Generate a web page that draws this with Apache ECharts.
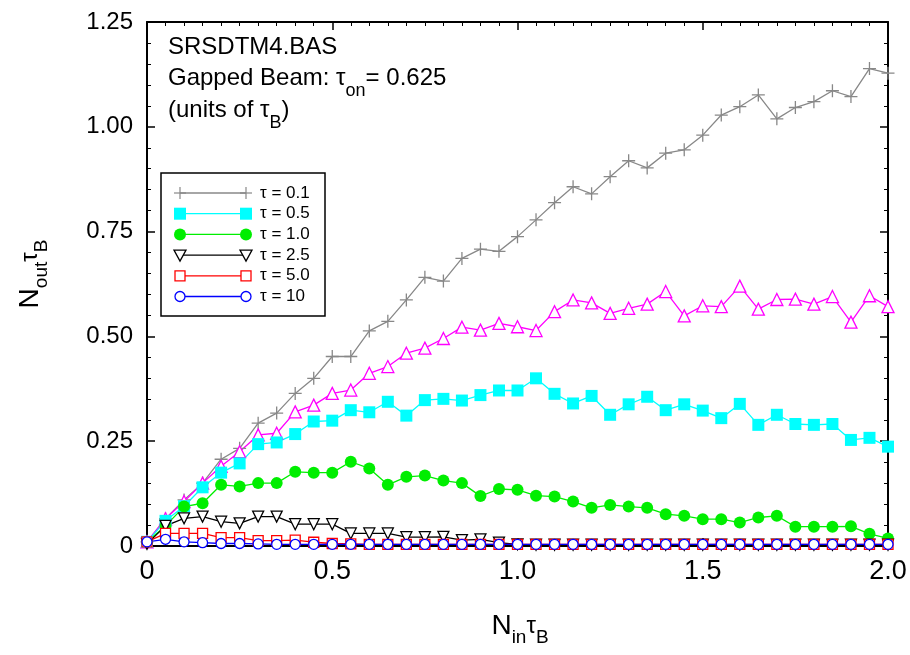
<!DOCTYPE html>
<html>
<head>
<meta charset="utf-8">
<script src="https://cdn.jsdelivr.net/npm/echarts@6/dist/echarts.min.js"></script>
<style>
  html, body { margin: 0; padding: 0; background: #fff; }
  #chart { width: 910px; height: 655px; }
</style>
</head>
<body>
<div id="chart"></div>
<script>
// N_in * tau_B
const nIn = [0, 0.05, 0.1, 0.15, 0.2, 0.25, 0.3, 0.35, 0.4, 0.45,
  0.5, 0.55, 0.6, 0.65, 0.7, 0.75, 0.8, 0.85, 0.9, 0.95,
  1.0, 1.05, 1.1, 1.15, 1.2, 1.25, 1.3, 1.35, 1.4, 1.45,
  1.5, 1.55, 1.6, 1.65, 1.7, 1.75, 1.8, 1.85, 1.9, 1.95, 2.0]

// N_out * tau_B for each tau
const tau01 = [0.01, 0.065, 0.11, 0.15, 0.207, 0.233, 0.293, 0.317, 0.364, 0.40,
  0.452, 0.452, 0.513, 0.536, 0.587, 0.641, 0.632, 0.686, 0.708, 0.703,
  0.738, 0.778, 0.819, 0.857, 0.840, 0.881, 0.919, 0.902, 0.937, 0.945,
  0.980, 1.028, 1.048, 1.076, 1.019, 1.046, 1.060, 1.086, 1.072, 1.139, 1.128]
const tauExtra = [0.01, 0.065, 0.106, 0.15, 0.19, 0.225, 0.265, 0.269, 0.320, 0.336,
  0.364, 0.372, 0.412, 0.428, 0.460, 0.472, 0.495, 0.522, 0.515, 0.531,
  0.523, 0.514, 0.559, 0.587, 0.580, 0.555, 0.567, 0.577, 0.607, 0.549,
  0.573, 0.571, 0.620, 0.565, 0.588, 0.589, 0.577, 0.595, 0.534, 0.597, 0.571]
const tau05 = [0.01, 0.06, 0.095, 0.140, 0.175, 0.197, 0.243, 0.247, 0.267, 0.297,
  0.299, 0.324, 0.319, 0.344, 0.311, 0.348, 0.351, 0.347, 0.360, 0.371,
  0.371, 0.400, 0.363, 0.340, 0.358, 0.313, 0.338, 0.356, 0.324, 0.338,
  0.323, 0.305, 0.339, 0.289, 0.313, 0.291, 0.289, 0.291, 0.253, 0.258, 0.237]
const tau10 = [0.01, 0.048, 0.094, 0.102, 0.146, 0.142, 0.150, 0.150, 0.177, 0.175,
  0.175, 0.201, 0.185, 0.146, 0.165, 0.168, 0.156, 0.150, 0.119, 0.136,
  0.134, 0.120, 0.118, 0.106, 0.091, 0.098, 0.094, 0.091, 0.076, 0.072,
  0.064, 0.064, 0.056, 0.068, 0.072, 0.046, 0.046, 0.046, 0.047, 0.029, 0.018]
const tau25 = [0.005, 0.048, 0.066, 0.070, 0.058, 0.054, 0.070, 0.070, 0.052, 0.052,
  0.052, 0.030, 0.030, 0.030, 0.021, 0.021, 0.022, 0.014, 0.016, 0.008,
  0.004, 0.003, 0.003, 0.003, 0.003, 0.003, 0.003, 0.003, 0.003, 0.003,
  0.003, 0.003, 0.003, 0.003, 0.003, 0.003, 0.003, 0.003, 0.003, 0.003, 0.003]
const tau50 = [0.01, 0.030, 0.030, 0.030, 0.020, 0.020, 0.013, 0.013, 0.014, 0.009,
  0.006, 0.005, 0.004, 0.004, 0.004, 0.004, 0.004, 0.004, 0.004, 0.004,
  0.004, 0.004, 0.004, 0.004, 0.004, 0.004, 0.004, 0.004, 0.004, 0.004,
  0.004, 0.004, 0.004, 0.004, 0.004, 0.004, 0.004, 0.004, 0.004, 0.004, 0.004]
const tau100 = [0.01, 0.016, 0.010, 0.008, 0.006, 0.006, 0.005, 0.004, 0.004, 0.004,
  0.004, 0.004, 0.004, 0.004, 0.004, 0.004, 0.004, 0.004, 0.004, 0.004,
  0.004, 0.004, 0.004, 0.004, 0.004, 0.004, 0.004, 0.004, 0.004, 0.004,
  0.004, 0.004, 0.004, 0.004, 0.004, 0.004, 0.004, 0.004, 0.004, 0.004, 0.004]

const legendNames = ['τ = 0.1', 'τ = 0.5', 'τ = 1.0', 'τ = 2.5', 'τ = 5.0', 'τ = 10']
const xTickLabels = ['0', '0.5', '1.0', '1.5', '2.0']
const yTickLabels = ['0', '0.25', '0.50', '0.75', '1.00', '1.25']

const FONT = '"Liberation Sans", Arial, sans-serif'
const PLUS = 'path://M5.4,0H6.6V12H5.4ZM0,5.4H12V6.6H0Z'

const toPoints = vals => nIn.map((x, i) => [x, vals[i]])

function mkSeries(name, vals, color, symbol, size, open, rotate) {
    return {
        name: name,
        type: 'line',
        data: toPoints(vals),
        symbol: symbol,
        symbolSize: size,
        symbolRotate: rotate || 0,
        showAllSymbol: true,
        animation: false,
        lineStyle: { color: color, width: 1.3 },
        itemStyle: open
            ? { color: '#fff', borderColor: color, borderWidth: 1.3 }
            : { color: color, borderWidth: 0 }
    }
}

// drawing order: back to front
const series = [
    mkSeries(legendNames[0], tau01, '#888888', PLUS, 13, false),
    mkSeries('extra', tauExtra, '#ff00ff', 'triangle', 12, true),
    mkSeries(legendNames[1], tau05, '#00ffff', 'rect', 12, false),
    mkSeries(legendNames[2], tau10, '#00ee00', 'circle', 12, false),
    mkSeries(legendNames[3], tau25, '#000000', 'triangle', 11, true, 180),
    mkSeries(legendNames[4], tau50, '#ff0000', 'rect', 10, true),
    mkSeries(legendNames[5], tau100, '#0000ff', 'circle', 10, true)
]

// hand-drawn legend like the original (symbol at both ends)
const legendStyle = [
    { color: '#888888', kind: 'plus' },
    { color: '#00ffff', kind: 'rectFill' },
    { color: '#00ee00', kind: 'circleFill' },
    { color: '#000000', kind: 'triDown' },
    { color: '#ff0000', kind: 'rectOpen' },
    { color: '#0000ff', kind: 'circleOpen' }
]

function legendMark(kind, color, cx, cy) {
    const s = 6
    if (kind === 'plus') {
        return [
            { type: 'line', shape: { x1: cx - s, y1: cy, x2: cx + s, y2: cy }, style: { stroke: color, lineWidth: 1.2 } },
            { type: 'line', shape: { x1: cx, y1: cy - s, x2: cx, y2: cy + s }, style: { stroke: color, lineWidth: 1.2 } }
        ]
    }
    if (kind === 'rectFill') return [{ type: 'rect', shape: { x: cx - s, y: cy - s, width: 2 * s, height: 2 * s }, style: { fill: color } }]
    if (kind === 'circleFill') return [{ type: 'circle', shape: { cx: cx, cy: cy, r: s }, style: { fill: color } }]
    if (kind === 'rectOpen') return [{ type: 'rect', shape: { x: cx - 5, y: cy - 5, width: 10, height: 10 }, style: { fill: '#fff', stroke: color, lineWidth: 1.3 } }]
    if (kind === 'circleOpen') return [{ type: 'circle', shape: { cx: cx, cy: cy, r: 5 }, style: { fill: '#fff', stroke: color, lineWidth: 1.3 } }]
    return [{ type: 'polygon', shape: { points: [[cx - 6, cy - 5], [cx + 6, cy - 5], [cx, cy + 6]] }, style: { fill: '#fff', stroke: color, lineWidth: 1.3 } }]
}

const legendGraphics = [{
    type: 'rect', shape: { x: 161, y: 173, width: 164, height: 143 },
    style: { fill: '#fff', stroke: '#000', lineWidth: 1.5 }, z: 10
}]
legendNames.forEach((name, i) => {
    const y = 193 + i * 20.7
    const st = legendStyle[i]
    legendGraphics.push({ type: 'line', shape: { x1: 180, y1: y, x2: 246, y2: y }, style: { stroke: st.color, lineWidth: 1.3 }, z: 11 })
    legendMark(st.kind, st.color, 180, y).concat(legendMark(st.kind, st.color, 246, y)).forEach(g => {
        g.z = 12
        legendGraphics.push(g)
    })
    legendGraphics.push({
        type: 'text', x: 260, y: y, z: 12,
        style: { text: name, font: '17px ' + FONT, fill: '#000', verticalAlign: 'middle' }
    })
})

const subRich = {
    m: { fontSize: 24, lineHeight: 24, verticalAlign: 'top', fontFamily: FONT, color: '#000' },
    s: { fontSize: 18, lineHeight: 18, verticalAlign: 'top', fontFamily: FONT, color: '#000', padding: [16, 0, 0, 0] }
}
const axisRich = {
    m: { fontSize: 28, lineHeight: 28, verticalAlign: 'top', fontFamily: FONT, color: '#000' },
    t: { fontSize: 24, lineHeight: 24, verticalAlign: 'top', fontFamily: FONT, color: '#000', padding: [2, 0, 0, 0] },
    s: { fontSize: 19, lineHeight: 19, verticalAlign: 'top', fontFamily: FONT, color: '#000', padding: [16, 0, 0, 0] }
}

const textGraphics = [
    { type: 'text', x: 168, y: 35, style: { text: '{m|SRSDTM4.BAS}', rich: subRich } },
    { type: 'text', x: 168, y: 66, style: { text: '{m|Gapped Beam: τ}{s|on}{m|= 0.625}', rich: subRich } },
    { type: 'text', x: 168, y: 98, style: { text: '{m|(units of τ}{s|B}{m|)}', rich: subRich } },
    { type: 'text', x: 520, y: 612, style: { text: '{m|N}{s|in}{t|τ}{s|B}', rich: axisRich, align: 'center' } },
    { type: 'text', x: 16, y: 274, rotation: Math.PI / 2, style: { text: '{m|N}{s|out}{t|τ}{s|B}', rich: axisRich, align: 'center' } }
]

function mkXAxis(pos, labels) {
    return {
        type: 'value', position: pos, min: 0, max: 2, interval: 0.5,
        axisLine: { show: true, onZero: false, lineStyle: { color: '#000', width: 2 } },
        axisTick: { show: true, inside: true, length: 8, lineStyle: { color: '#000', width: 1.5 } },
        minorTick: { show: true, splitNumber: 10, length: 4, lineStyle: { color: '#000', width: 1 } },
        splitLine: { show: false },
        axisLabel: {
            show: labels, color: '#000', fontSize: 27, fontFamily: FONT, margin: 12,
            formatter: v => xTickLabels[Math.round(v / 0.5)]
        }
    }
}
function mkYAxis(pos, labels) {
    return {
        type: 'value', position: pos, min: 0, max: 1.25, interval: 0.25,
        axisLine: { show: true, onZero: false, lineStyle: { color: '#000', width: 2 } },
        axisTick: { show: true, inside: true, length: 8, lineStyle: { color: '#000', width: 1.5 } },
        minorTick: { show: true, splitNumber: 5, length: 4, lineStyle: { color: '#000', width: 1 } },
        splitLine: { show: false },
        axisLabel: {
            show: labels, color: '#000', fontSize: 24, fontFamily: FONT, margin: 14,
            formatter: v => yTickLabels[Math.round(v / 0.25)]
        }
    }
}

const chart = echarts.init(document.getElementById('chart'), null, { renderer: 'canvas' })
chart.setOption({
    backgroundColor: '#fff',
    animation: false,
    grid: { left: 147, right: 22, top: 22, bottom: 109, containLabel: false },
    xAxis: [mkXAxis('bottom', true), mkXAxis('top', false)],
    yAxis: [mkYAxis('left', true), mkYAxis('right', false)],
    series: series,
    graphic: legendGraphics.concat(textGraphics)
})
</script>
</body>
</html>
